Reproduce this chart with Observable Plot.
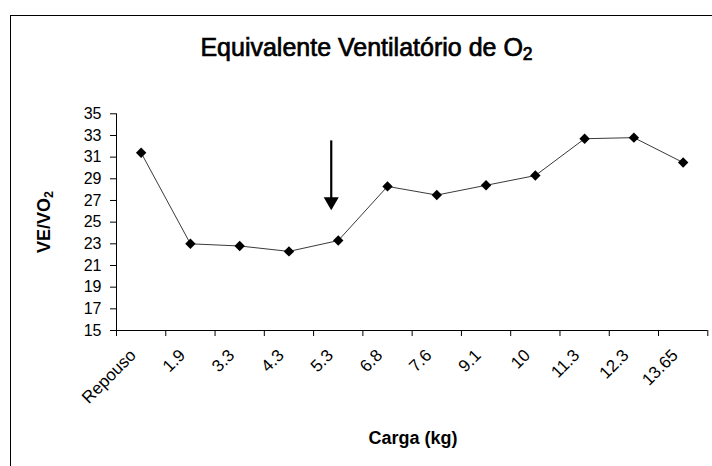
<!DOCTYPE html>
<html>
<head>
<meta charset="utf-8">
<script src="https://cdn.jsdelivr.net/npm/d3@7"></script>
<script src="https://cdn.jsdelivr.net/npm/@observablehq/plot@0.6"></script>
<style>
  html, body { margin: 0; padding: 0; background: #fff; }
  body { width: 712px; height: 466px; position: relative; overflow: hidden; font-family: "Liberation Sans", Arial, sans-serif; }
  #frame { position: absolute; left: 10px; top: 15px; width: 760px; height: 520px; border: 1px solid #000; box-sizing: border-box; }
  #title { position: absolute; left: 0; width: 733px; top: 35px; text-align: center; font-size: 25px; line-height: 25px; font-weight: normal; color: #000; -webkit-text-stroke: 0.7px #000; }
  #ylab { position: absolute; left: 44px; top: 222px; transform: translate(-50%, -50%) rotate(-90deg); font-size: 18px; font-weight: bold; white-space: nowrap; line-height: 18px; }
  #xlab { position: absolute; left: 413px; top: 438px; transform: translate(-50%, -50%); font-size: 18px; font-weight: bold; white-space: nowrap; line-height: 18px; }
  sub { font-size: 0.7em; vertical-align: -0.25em; line-height: 0; }
  #chart { position: absolute; left: 0; top: 0; }
</style>
</head>
<body>
<div id="frame"></div>
<div id="title">Equivalente Ventilatório de O<sub>2</sub></div>
<div id="ylab">VE/VO<sub>2</sub></div>
<div id="xlab">Carga (kg)</div>
<div id="chart"></div>
<script>
const categories = ["Repouso", "1.9", "3.3", "4.3", "5.3", "6.8", "7.6", "9.1", "10", "11.3", "12.3", "13.65"];
const values = [31.4, 23.0, 22.8, 22.3, 23.3, 28.3, 27.5, 28.4, 29.3, 32.7, 32.8, 30.5];
const yTicks = [15, 17, 19, 21, 23, 25, 27, 29, 31, 33, 35];
const arrowCategory = "5.3";
const arrowFrom = 32.5;
const arrowTip = 26.1;

const data = categories.map((c, i) => ({c, pos: i + 0.5, v: values[i]}));
const arrowData = [{pos: categories.indexOf(arrowCategory) + 0.5, from: arrowFrom, tip: arrowTip}];

const chart = Plot.plot({
  width: 712,
  height: 466,
  marginLeft: 116,
  marginRight: 4.7,
  marginTop: 113.3,
  marginBottom: 136,
  style: {fontFamily: "'Liberation Sans', Arial, sans-serif", background: "transparent", color: "#000"},
  x: {domain: [0, categories.length]},
  y: {domain: [15, 35]},
  marks: [
    Plot.axisY({ticks: yTicks, tickSize: 6, tickPadding: 9, fontSize: 16, label: null, tickFormat: d => String(d)}),
    Plot.axisX({ticks: d3.range(categories.length + 1), tickSize: 6, tickFormat: () => "", label: null}),
    Plot.axisX({ticks: data.map(d => d.pos), tickFormat: d => categories[Math.floor(d)], tickSize: 0, tickRotate: -45, tickPadding: 22, dx: -8, fontSize: 17, label: null}),
    Plot.ruleX([0], {stroke: "#000"}),
    Plot.ruleY([15], {stroke: "#000"}),
    Plot.line(data, {x: "pos", y: "v", stroke: "#3a3a3a", strokeWidth: 1}),
    Plot.dot(data, {x: "pos", y: "v", symbol: "diamond2", r: 4.7, fill: "#000", stroke: null}),
    Plot.ruleX(arrowData, {x: "pos", y1: "from", y2: "tip", dx: -7, insetBottom: 8, stroke: "#000", strokeWidth: 2.2}),
    Plot.dot(arrowData, {x: "pos", y: "tip", symbol: "triangle", rotate: 180, r: 5.6, fill: "#000", stroke: null, dx: -7, dy: -8.66})
  ]
});
document.getElementById("chart").appendChild(chart);
</script>
</body>
</html>
